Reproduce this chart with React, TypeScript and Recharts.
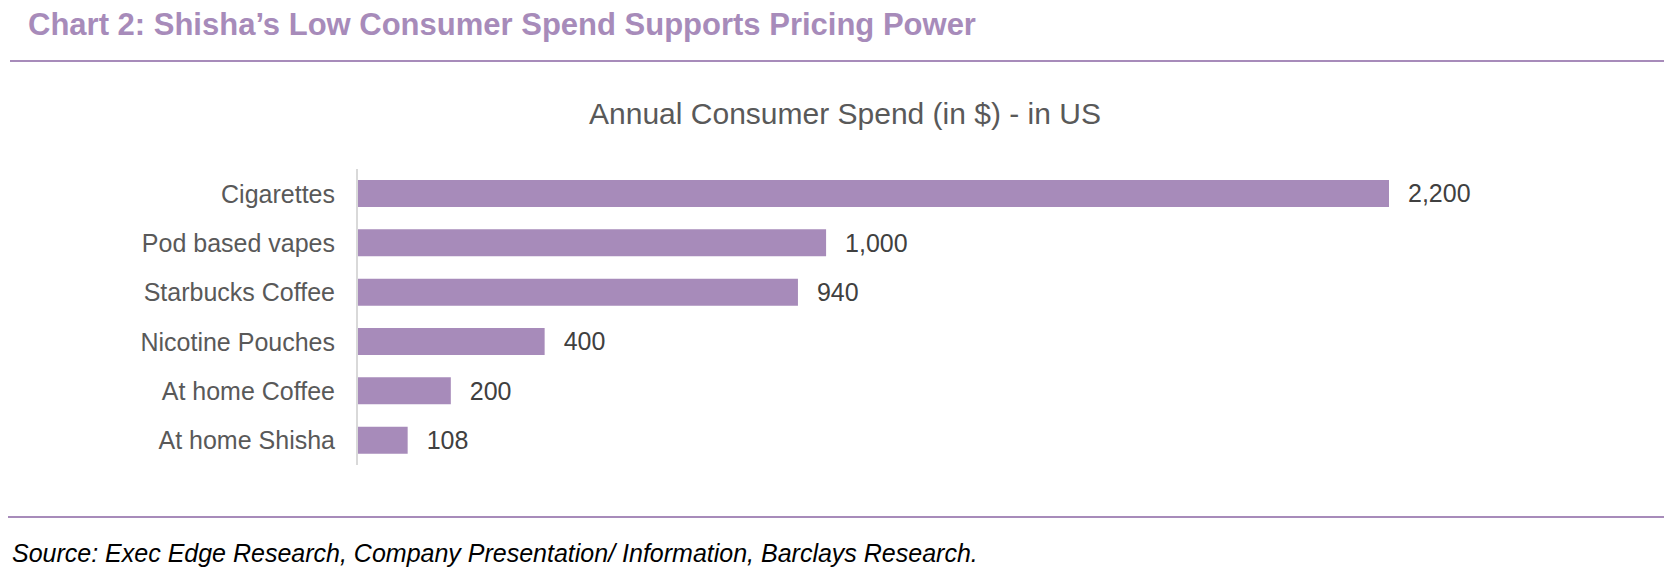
import React from "react";
import { BarChart, Bar, XAxis, YAxis, LabelList } from "recharts";

const categories = [
  "Cigarettes",
  "Pod based vapes",
  "Starbucks Coffee",
  "Nicotine Pouches",
  "At home Coffee",
  "At home Shisha",
];
const spend = [2200, 1000, 940, 400, 200, 108];

const PURPLE = "#A78BBA";
const FONT = "'Liberation Sans', Arial, Helvetica, sans-serif";

const data = categories.map((name, i) => ({ name, value: spend[i] }));

export default function App() {
  return (
    <div
      style={{
        position: "relative",
        width: 1678,
        height: 573,
        background: "#fff",
        fontFamily: FONT,
        overflow: "hidden",
      }}
    >
      <style>{`body{margin:0}`}</style>

      <div
        style={{
          position: "absolute",
          left: 28,
          top: 9,
          fontSize: 31,
          lineHeight: "31px",
          fontWeight: 700,
          color: PURPLE,
          whiteSpace: "nowrap",
        }}
      >
        Chart 2: Shisha’s Low Consumer Spend Supports Pricing Power
      </div>
      <div style={{ position: "absolute", left: 10, top: 60, width: 1654, height: 2, background: PURPLE }} />

      <div
        style={{
          position: "absolute",
          left: 445,
          top: 99,
          width: 800,
          textAlign: "center",
          fontSize: 30,
          lineHeight: "30px",
          color: "#595959",
          whiteSpace: "nowrap",
        }}
      >
        Annual Consumer Spend (in $) - in US
      </div>

      <div style={{ position: "absolute", left: 0, top: 0 }}>
        <BarChart
          width={1678}
          height={573}
          data={data}
          layout="vertical"
          margin={{ top: 169, right: 289, bottom: 108, left: 0 }}
          barSize={27}
        >
          <XAxis type="number" domain={[0, "dataMax"]} hide />
          <YAxis
            type="category"
            dataKey="name"
            width={357}
            axisLine={{ stroke: "#D9D9D9", strokeWidth: 2 }}
            tickLine={false}
            tickSize={0}
            tickMargin={22}
            tick={{ fontSize: 25, fill: "#595959", fontFamily: FONT }}
            interval={0}
          />
          <Bar dataKey="value" fill={PURPLE} isAnimationActive={false}>
            <LabelList
              dataKey="value"
              position="right"
              offset={19}
              formatter={(v: any) => Number(v).toLocaleString("en-US")}
              style={{ fontSize: 25, fill: "#404040", fontFamily: FONT }}
            />
          </Bar>
        </BarChart>
      </div>

      <div style={{ position: "absolute", left: 8, top: 516, width: 1656, height: 2, background: PURPLE }} />
      <div
        style={{
          position: "absolute",
          left: 12,
          top: 541,
          fontSize: 25,
          lineHeight: "25px",
          fontStyle: "italic",
          color: "#000",
          whiteSpace: "nowrap",
        }}
      >
        Source: Exec Edge Research, Company Presentation/ Information, Barclays Research.
      </div>
    </div>
  );
}
